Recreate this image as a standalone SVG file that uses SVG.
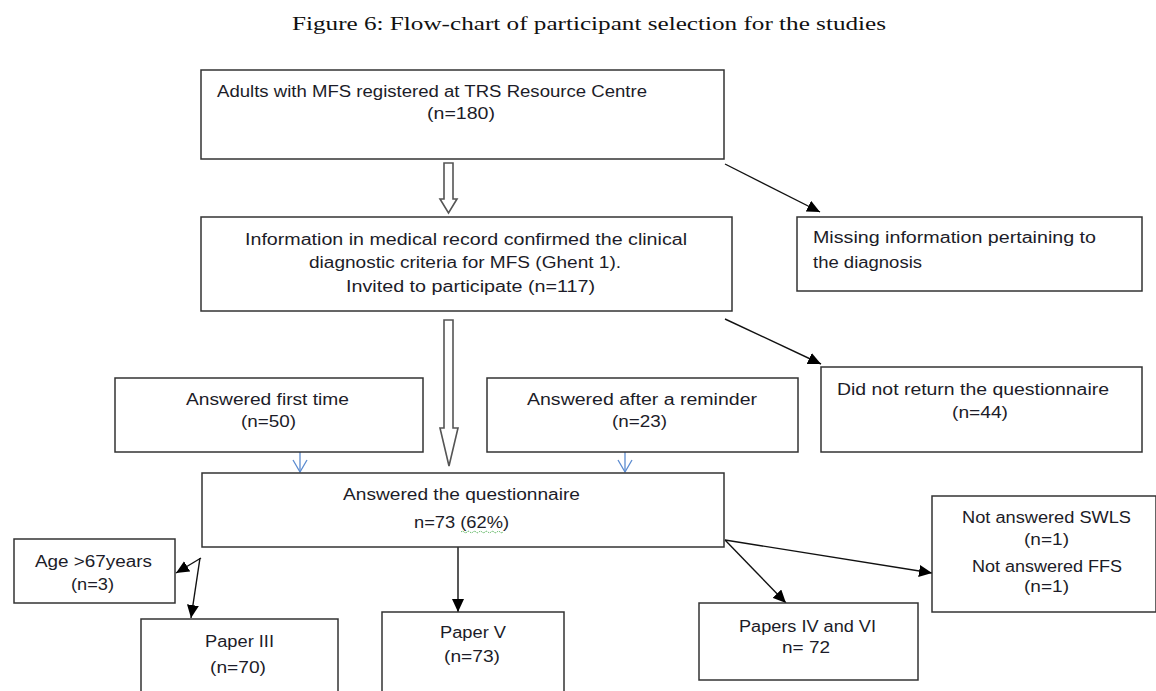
<svg xmlns="http://www.w3.org/2000/svg" width="1156" height="691" viewBox="0 0 1156 691">
<style>
.box{fill:#fff;stroke:#333;stroke-width:1.5}
.t{font-family:"Liberation Sans",Arial,sans-serif;font-size:16px;fill:#1c1c28}
.title{font-family:"Liberation Serif","Times New Roman",serif;font-size:18px;fill:#111}
.c{stroke:#111;stroke-width:1.4;fill:none}
.b{stroke:#5b8bd0;stroke-width:1.3;fill:none}
.hollow{fill:#fff;stroke:#555;stroke-width:1.6}
</style>
<defs>
<marker id="ah" markerUnits="userSpaceOnUse" markerWidth="14" markerHeight="12" refX="13" refY="6" orient="auto">
<path d="M0,0 L13,6 L0,12 Z" fill="#000"/>
</marker>
<marker id="bv" markerUnits="userSpaceOnUse" markerWidth="16" markerHeight="18" refX="13" refY="8" orient="auto">
<path d="M1,1 L13,8 L1,15" fill="none" stroke="#5b8bd0" stroke-width="1.3"/>
</marker>
</defs>
<rect width="1156" height="691" fill="#fff"/>
<text class="title" x="292" y="30" textLength="594" lengthAdjust="spacingAndGlyphs">Figure 6: Flow-chart of participant selection for the studies</text>

<g id="connectors">
<path class="hollow" d="M444,163 H453 V199 H457 L448.5,213 L440,199 H444 Z"/>
<path class="hollow" d="M444,320 H453 V428 H458 L449,466 L440,428 H444 Z"/>
<line class="c" x1="725" y1="164" x2="820" y2="212" marker-end="url(#ah)"/>
<line class="c" x1="725" y1="319" x2="821" y2="364" marker-end="url(#ah)"/>
<line class="b" x1="300" y1="452" x2="300" y2="472" marker-end="url(#bv)"/>
<line class="b" x1="625" y1="452" x2="625" y2="472" marker-end="url(#bv)"/>
<line class="c" x1="201" y1="558" x2="176" y2="573" marker-end="url(#ah)"/>
<line class="c" x1="200" y1="558" x2="191" y2="618" marker-end="url(#ah)"/>
<line class="c" x1="458" y1="547" x2="458" y2="612" marker-end="url(#ah)"/>
<line class="c" x1="725" y1="540" x2="786" y2="603" marker-end="url(#ah)"/>
<line class="c" x1="725" y1="540" x2="932" y2="573" marker-end="url(#ah)"/>
</g>

<g id="n_adults">
<rect class="box" x="201" y="70" width="523" height="89"/>
<text class="t" x="217" y="97" textLength="430" lengthAdjust="spacingAndGlyphs">Adults with  MFS registered at TRS Resource Centre</text>
<text class="t" x="427" y="119" textLength="68" lengthAdjust="spacingAndGlyphs">(n=180)</text>
</g>

<g id="n_info">
<rect class="box" x="201" y="217" width="531" height="94"/>
<text class="t" x="245" y="245" textLength="442" lengthAdjust="spacingAndGlyphs">Information  in medical record confirmed the clinical</text>
<text class="t" x="309" y="268" textLength="312" lengthAdjust="spacingAndGlyphs">diagnostic criteria for MFS (Ghent 1).</text>
<text class="t" x="346" y="292" textLength="249" lengthAdjust="spacingAndGlyphs">Invited to participate  (n=117)</text>
</g>

<g id="n_missing">
<rect class="box" x="797" y="217" width="345" height="74"/>
<text class="t" x="813" y="243" textLength="283" lengthAdjust="spacingAndGlyphs">Missing information pertaining to</text>
<text class="t" x="813" y="268" textLength="109" lengthAdjust="spacingAndGlyphs">the diagnosis</text>
</g>

<g id="n_noreturn">
<rect class="box" x="821" y="367" width="321" height="85"/>
<text class="t" x="837" y="395" textLength="272" lengthAdjust="spacingAndGlyphs">Did not return the questionnaire</text>
<text class="t" x="952" y="418" textLength="56" lengthAdjust="spacingAndGlyphs">(n=44)</text>
</g>

<g id="n_first">
<rect class="box" x="115" y="378" width="308" height="74"/>
<text class="t" x="186" y="405" textLength="163" lengthAdjust="spacingAndGlyphs">Answered first time</text>
<text class="t" x="241" y="427" textLength="55" lengthAdjust="spacingAndGlyphs">(n=50)</text>
</g>

<g id="n_reminder">
<rect class="box" x="487" y="378" width="311" height="74"/>
<text class="t" x="527" y="405" textLength="230" lengthAdjust="spacingAndGlyphs">Answered after a reminder</text>
<text class="t" x="612" y="427" textLength="55" lengthAdjust="spacingAndGlyphs">(n=23)</text>
</g>

<g id="n_answered">
<rect class="box" x="202" y="473" width="522" height="74"/>
<text class="t" x="343" y="500" textLength="237" lengthAdjust="spacingAndGlyphs">Answered the questionnaire</text>
<text class="t" x="414" y="528" textLength="95" lengthAdjust="spacingAndGlyphs">n=73 (62%)</text>
<path d="M461,532 q1.5,-1.5 3,0 t3,0 t3,0 t3,0 t3,0 t3,0 t3,0 t3,0 t3,0 t3,0 t3,0 t3,0 t3,0 t3,0" fill="none" stroke="#4caf50" stroke-width="1" stroke-dasharray="1.5 1"/>
</g>

<g id="n_age">
<rect class="box" x="14" y="539" width="161" height="64"/>
<text class="t" x="35" y="567" textLength="117" lengthAdjust="spacingAndGlyphs">Age &gt;67years</text>
<text class="t" x="71" y="590" textLength="43" lengthAdjust="spacingAndGlyphs">(n=3)</text>
</g>

<g id="n_paper3">
<rect class="box" x="141" y="619" width="197" height="90"/>
<text class="t" x="205" y="647" textLength="69" lengthAdjust="spacingAndGlyphs">Paper III</text>
<text class="t" x="210" y="673" textLength="56" lengthAdjust="spacingAndGlyphs">(n=70)</text>
</g>

<g id="n_paper5">
<rect class="box" x="382" y="612" width="182" height="95"/>
<text class="t" x="440" y="638" textLength="66" lengthAdjust="spacingAndGlyphs">Paper V</text>
<text class="t" x="444" y="662" textLength="56" lengthAdjust="spacingAndGlyphs">(n=73)</text>
</g>

<g id="n_papers46">
<rect class="box" x="699" y="603" width="219" height="77"/>
<text class="t" x="739" y="632" textLength="137" lengthAdjust="spacingAndGlyphs">Papers IV and VI</text>
<text class="t" x="782" y="653" textLength="48" lengthAdjust="spacingAndGlyphs">n= 72</text>
</g>

<g id="n_notanswered">
<rect class="box" x="932" y="496" width="224" height="116"/>
<text class="t" x="962" y="523" textLength="169" lengthAdjust="spacingAndGlyphs">Not answered SWLS</text>
<text class="t" x="1024" y="545" textLength="45" lengthAdjust="spacingAndGlyphs">(n=1)</text>
<text class="t" x="972" y="572" textLength="150" lengthAdjust="spacingAndGlyphs">Not answered FFS</text>
<text class="t" x="1024" y="592" textLength="45" lengthAdjust="spacingAndGlyphs">(n=1)</text>
</g>
</svg>
